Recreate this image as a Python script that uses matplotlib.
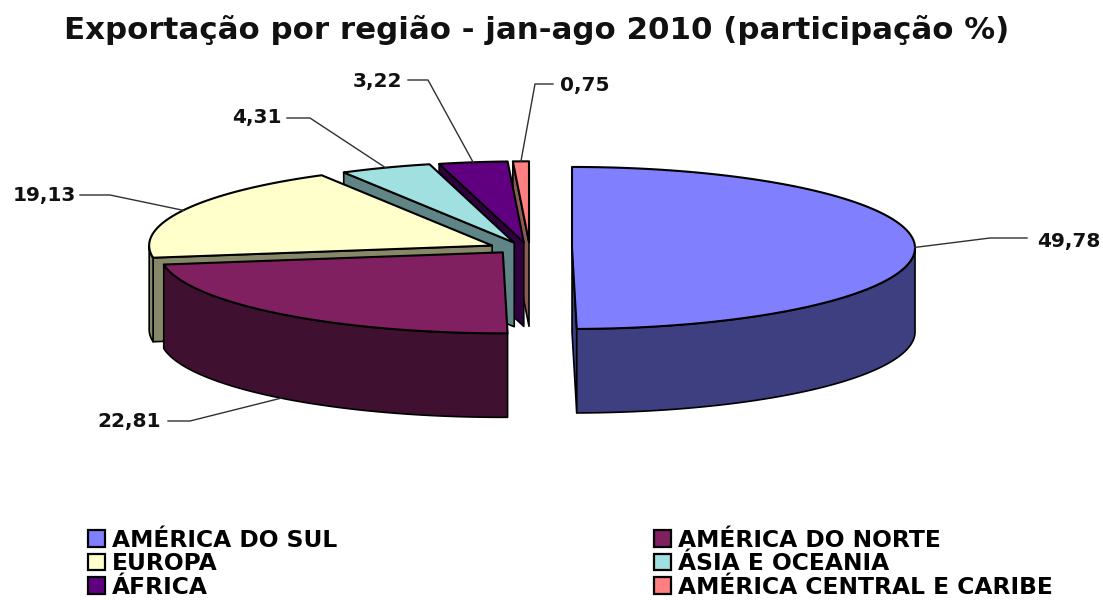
import numpy as np
import matplotlib
matplotlib.use("Agg")
import matplotlib.pyplot as plt
from matplotlib.patches import Patch, Polygon

# Data
regions = ["AMÉRICA DO SUL", "AMÉRICA DO NORTE", "EUROPA", "ÁSIA E OCEANIA", "ÁFRICA",
           "AMÉRICA CENTRAL E CARIBE"]
shares = [49.78, 22.81, 19.13, 4.31, 3.22, 0.75]
share_labels = ["49,78", "22,81", "19,13", "4,31", "3,22", "0,75"]
top_colors = ["#8080ff", "#802060", "#ffffcc", "#a0e0e0", "#600080", "#ff8080"]
side_colors = ["#3d3f80", "#3f1030", "#87876a", "#5f8587", "#300040", "#8a5a55"]

# Pie geometry, in pixels of the picture
CX, CY = 530, 248
RX, RY = 343, 81
DEPTH = 84
EXPLODE_X = 0.1225
EXPLODE_Y = 0.07
START = 0.0

# label position and leader elbow, same order as regions
label_xy = [(1100, 241), (161, 421), (76, 196), (282, 118), (402, 81), (560, 85)]
label_ha = ["right", "right", "right", "right", "right", "left"]
elbow_xy = [(990, 238), (190, 421), (110, 195), (310, 118), (428, 80), (535, 84)]
leader_end_x = [1027, 168, 80, 287, 408, 553]

plt.rcParams["font.family"] = ["DejaVu Sans"]


def project(tip, angle):
    """Point on the rim for an angle clockwise from 12 o'clock (degrees)"""
    a = np.radians(angle)
    return tip[0] + RX * np.sin(a), tip[1] - RY * np.cos(a)


def draw_slice(ax, tip, a0, a1, top, side):
    ang = np.linspace(a0, a1, 120)
    xs, ys = project(tip, ang)

    # cut faces, only the ones turned to the viewer
    visible = [np.sin(np.radians(a0)) < 0, np.sin(np.radians(a1)) > 0]
    for k, show in zip((0, -1), visible):
        if not show:
            continue
        face = [tip, (xs[k], ys[k]), (xs[k], ys[k] + DEPTH), (tip[0], tip[1] + DEPTH)]
        ax.add_patch(Polygon(face, fc=side, ec="black", lw=1.2, joinstyle="round"))

    # outer wall
    front = ang[(ang >= 90) & (ang <= 270)]
    if len(front) > 1:
        fx, fy = project(tip, front)
        wall = np.r_[np.c_[fx, fy], np.c_[fx[::-1], fy[::-1] + DEPTH]]
        ax.add_patch(Polygon(wall, fc=side, ec="black", lw=1.2, joinstyle="round"))

    rim = np.r_[[tip], np.c_[xs, ys]]
    ax.add_patch(Polygon(rim, fc=top, ec="black", lw=1.5, joinstyle="round"))


fig = plt.figure(figsize=(11.03, 6.0), dpi=100)
ax = fig.add_axes([0, 0, 1, 1])
ax.set_xlim(0, 1103)
ax.set_ylim(600, 0)
ax.axis("off")

edges = START + 360 * np.r_[0, np.cumsum(shares)] / np.sum(shares)
mids = (edges[:-1] + edges[1:]) / 2
tips = [(CX + EXPLODE_X * RX * np.sin(np.radians(m)), CY - EXPLODE_Y * RY * np.cos(np.radians(m)))
        for m in mids]

# back slices first
for i in [5, 4, 3, 2, 1, 0]:
    draw_slice(ax, tips[i], edges[i], edges[i + 1], top_colors[i], side_colors[i])

# leaders and value labels
for i, txt in enumerate(share_labels):
    ex, ey = project(tips[i], mids[i])
    if 120 < mids[i] < 240:
        ey += DEPTH
    ax.plot([ex, elbow_xy[i][0], leader_end_x[i]], [ey, elbow_xy[i][1], elbow_xy[i][1]],
            color="#303030", lw=1.0, solid_joinstyle="round")
    ax.text(label_xy[i][0], label_xy[i][1], txt, ha=label_ha[i], va="center",
            fontsize=14.5, fontweight="bold", color="#111111")

ax.text(537, 30, "Exportação por região - jan-ago 2010 (participação %)", ha="center",
        va="center", fontsize=22.2, fontweight="bold", color="#111111")

# legend fills column by column
order = [0, 2, 4, 1, 3, 5]
handles = [Patch(fc=top_colors[i], ec="black", lw=1.6, label=regions[i]) for i in order]
ax.legend(handles=handles, ncol=2, frameon=False, loc="lower left",
          bbox_to_anchor=(0.065, -0.025), handlelength=0.72, handleheight=0.7,
          handletextpad=0.29, labelspacing=0.02, columnspacing=13.6, borderpad=0.2,
          prop={"size": 16.8, "weight": "bold"})

fig.savefig("out.png", dpi=100)
